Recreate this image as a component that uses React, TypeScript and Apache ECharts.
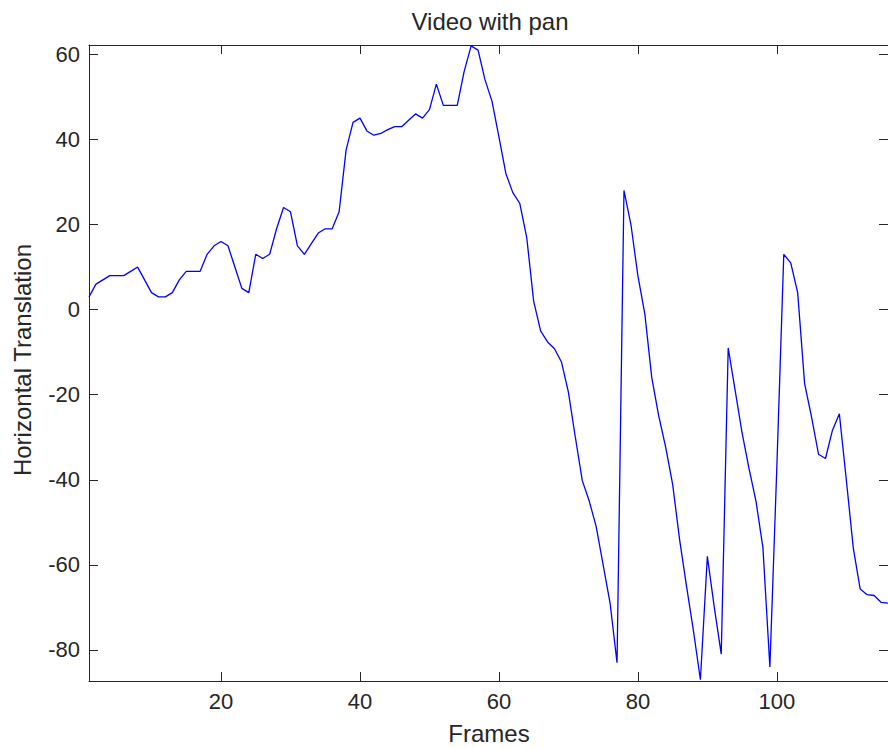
import React, { useEffect, useRef } from "react";
import * as echarts from "echarts";

const titleText = "Video with pan";
const xName = "Frames";
const yName = "Horizontal Translation";

const xTicks = [20, 40, 60, 80, 100];
const yTicks = [-80, -60, -40, -20, 0, 20, 40, 60];

// horizontal translation per frame (frames 1..116)
const translation = [
  3, 6, 7, 8, 8, 8, 9, 10, 7, 4,
  3, 3, 4, 7, 9, 9, 9, 13, 15, 16,
  15, 10, 5, 4, 13, 12, 13, 19, 24, 23,
  15, 13, 15.5, 18, 19, 19, 23, 37.5, 44, 45,
  42, 41, 41.4, 42.3, 43, 43, 44.5, 46, 45, 47,
  53, 48, 48, 48, 56, 62, 61, 54, 49, 40.6,
  32, 27.5, 25, 17, 2, -5, -7.6, -9.2, -12.3, -19.4,
  -30, -40.2, -45, -51, -60, -69, -83, 28, 20, 8,
  -1, -16, -25, -32.3, -41, -54, -65, -75.5, -87, -58,
  -70, -81, -9, -19, -29, -37.4, -45, -56, -84, -37,
  13, 11, 4, -17.4, -25.3, -34, -35, -28.4, -24.5, -40,
  -56, -65.7, -67, -67.2, -68.8, -69,
];

const xMin = 1;
const xMax = 116;
const yMin = -87.3;
const yMax = 62.2;

export default function App() {
  const ref = useRef<HTMLDivElement>(null);

  useEffect(() => {
    if (!ref.current) return;
    const chart = echarts.init(ref.current, null, { renderer: "svg" });
    const font = "'Liberation Sans', Arial, Helvetica, sans-serif";
    const axisColor = "#262626";
    const points = translation.map((v, i) => [i + 1, v]);

    const tickStyle = { show: true, inside: true, length: 9, lineStyle: { color: axisColor, width: 1 } };

    chart.setOption({
      animation: false,
      backgroundColor: "#ffffff",
      grid: { left: 89, top: 45, width: 803, height: 636, containLabel: false },
      xAxis: [
        {
          type: "value",
          min: xMin,
          max: xMax,
          position: "bottom",
          axisLine: { show: true, onZero: false, lineStyle: { color: axisColor, width: 1 } },
          axisTick: { ...tickStyle, customValues: xTicks },
          axisLabel: {
            customValues: xTicks,
            color: "#262626",
            fontFamily: font,
            fontSize: 22,
            margin: 9,
          },
          splitLine: { show: false },
        },
        {
          type: "value",
          min: xMin,
          max: xMax,
          position: "top",
          axisLine: { show: true, onZero: false, lineStyle: { color: axisColor, width: 1 } },
          axisTick: { ...tickStyle, customValues: xTicks },
          axisLabel: { show: false },
          splitLine: { show: false },
        },
      ],
      yAxis: [
        {
          type: "value",
          min: yMin,
          max: yMax,
          position: "left",
          axisLine: { show: true, onZero: false, lineStyle: { color: axisColor, width: 1 } },
          axisTick: { ...tickStyle, customValues: yTicks },
          axisLabel: {
            customValues: yTicks,
            color: "#262626",
            fontFamily: font,
            fontSize: 22,
            margin: 9,
          },
          splitLine: { show: false },
        },
        {
          type: "value",
          min: yMin,
          max: yMax,
          position: "right",
          axisLine: { show: true, onZero: false, lineStyle: { color: axisColor, width: 1 } },
          axisTick: { ...tickStyle, customValues: yTicks },
          axisLabel: { show: false },
          splitLine: { show: false },
        },
      ],
      graphic: [
        {
          type: "text",
          x: 490,
          y: 21,
          style: {
            text: titleText,
            font: `24px ${font}`,
            fill: "#262626",
            textAlign: "center",
            textVerticalAlign: "middle",
          },
        },
        {
          type: "text",
          x: 489,
          y: 733,
          style: {
            text: xName,
            font: `24px ${font}`,
            fill: "#262626",
            textAlign: "center",
            textVerticalAlign: "middle",
          },
        },
        {
          type: "text",
          x: 22,
          y: 360,
          rotation: Math.PI / 2,
          style: {
            text: yName,
            font: `24px ${font}`,
            fill: "#262626",
            textAlign: "center",
            textVerticalAlign: "middle",
          },
        },
      ],
      series: [
        {
          type: "line",
          data: points,
          xAxisIndex: 0,
          yAxisIndex: 0,
          showSymbol: false,
          symbol: "none",
          clip: true,
          lineStyle: { color: "#0000ff", width: 1.3 },
        },
      ],
    });

    return () => chart.dispose();
  }, []);

  return (
    <div
      ref={ref}
      style={{ position: "fixed", left: 0, top: 0, width: 888, height: 749, background: "#fff" }}
    />
  );
}
